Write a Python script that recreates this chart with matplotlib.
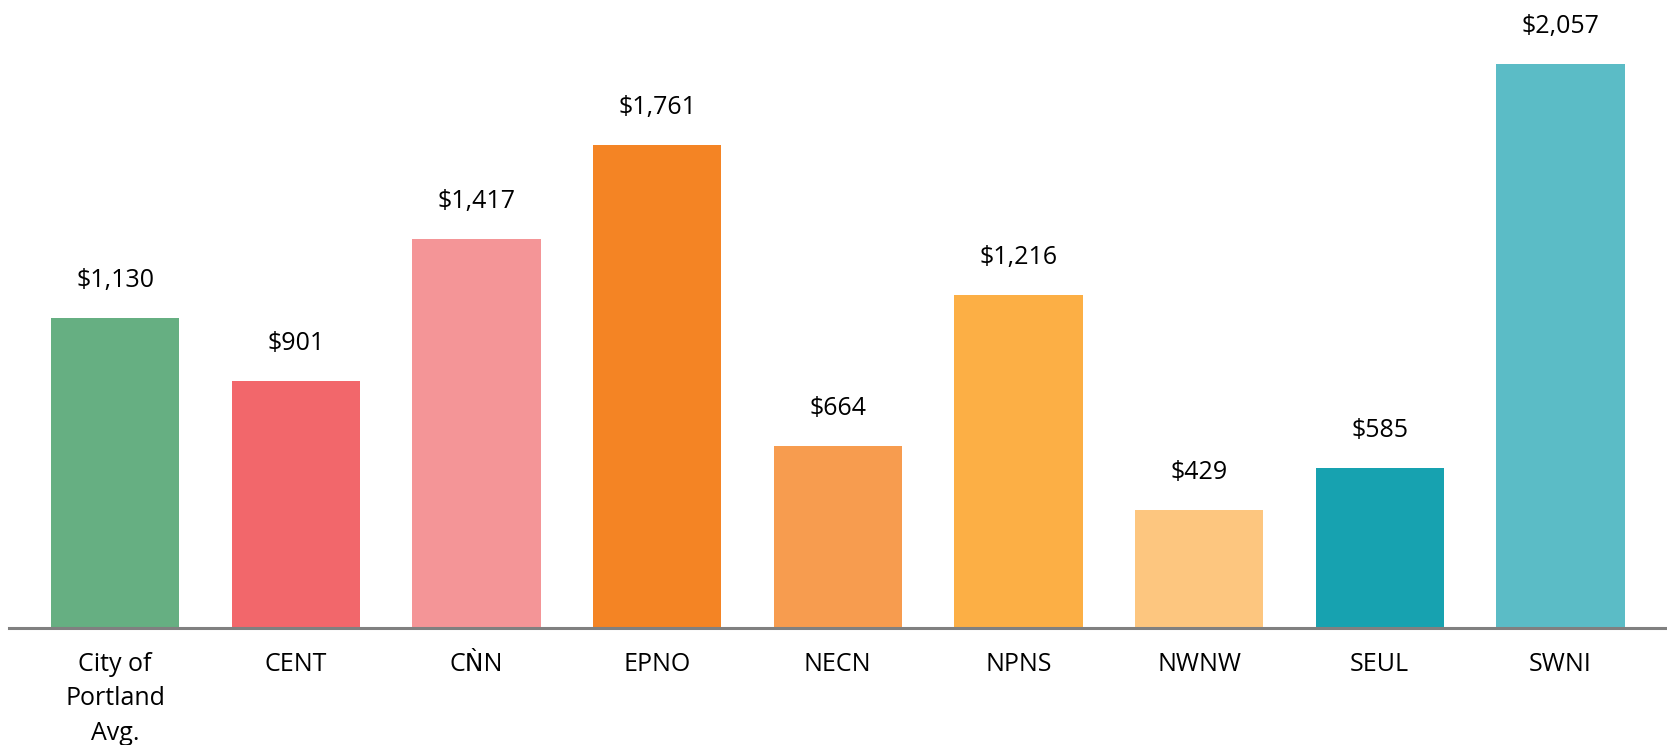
import numpy as np
import matplotlib.pyplot as plt

plt.rcParams['font.family'] = ['Open Sans', 'DejaVu Sans']

labels = ["City of\nPortland\nAvg.", "CENT", "C\u01f8N", "EPNO", "NECN", "NPNS", "NWNW", "SEUL", "SWNI"]
values = [1130, 901, 1417, 1761, 664, 1216, 429, 585, 2057]
colors = ["#66AF82", "#F2676B", "#F49597", "#F48424", "#F79C4F",
          "#FCAF45", "#FDC67F", "#17A2B0", "#5BBCC6"]

fig = plt.figure(figsize=(16.67, 7.45), dpi=100)
ax = fig.add_axes([9 / 1667, 117 / 745, 1 - 9 / 1667, 628 / 745])

x = np.arange(len(values))
bars = ax.bar(x, values, width=0.71, color=colors, zorder=1)

for b, v in zip(bars, values):
    ax.annotate("${:,}".format(v), xy=(b.get_x() + b.get_width() / 2, v),
                xytext=(0, 25), textcoords='offset pixels',
                ha='center', va='bottom', fontsize=18, color='black')

ax.set_xlim(-0.587, 8.59)
ax.set_ylim(0, 2290)
ax.set_xticks(x)
ax.set_xticklabels(labels, fontsize=18, linespacing=1.5)
ax.tick_params(axis='x', length=0, pad=17)
ax.set_yticks([])
for s in ['top', 'right', 'left']:
    ax.spines[s].set_visible(False)
ax.spines['bottom'].set_color('#808080')
ax.spines['bottom'].set_linewidth(2.2)
ax.spines['bottom'].set_zorder(3)

fig.savefig("out.png", dpi=100)
